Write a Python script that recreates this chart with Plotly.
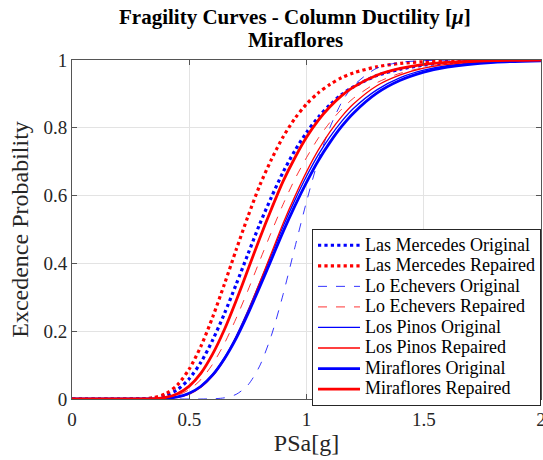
import plotly.graph_objects as go

# PSa [g] sample points
psa = [0, 0.2, 0.3, 0.35, 0.4, 0.45, 0.5, 0.55, 0.6, 0.65, 0.7, 0.75, 0.8, 0.85,
       0.9, 0.95, 1.0, 1.05, 1.1, 1.15, 1.2, 1.3, 1.4, 1.5, 1.6, 1.8, 2.0]

las_mercedes_original = [0, 0, 0.0005, 0.0028, 0.0104, 0.0277, 0.0599, 0.1086, 0.174, 0.252,
                         0.338, 0.427, 0.515, 0.595, 0.669, 0.732, 0.786, 0.831, 0.868, 0.898,
                         0.921, 0.954, 0.973, 0.985, 0.9915, 0.9973, 0.9992]
las_mercedes_repaired = [0, 0, 0.0007, 0.0043, 0.0158, 0.0418, 0.0885, 0.156, 0.242, 0.339,
                         0.440, 0.538, 0.629, 0.706, 0.773, 0.827, 0.870, 0.903, 0.928, 0.948,
                         0.962, 0.980, 0.990, 0.995, 0.9974, 0.9994, 0.9998]
lo_echevers_original = [0, 0, 0, 0, 0, 0, 0, 0, 0.0006, 0.0035,
                        0.0137, 0.041, 0.097, 0.187, 0.308, 0.446, 0.582, 0.704, 0.801, 0.875,
                        0.924, 0.976, 0.993, 0.998, 0.9995, 1.0, 1.0]
lo_echevers_repaired = [0, 0, 0.0001, 0.0007, 0.0034, 0.0110, 0.0277, 0.0576, 0.103, 0.164,
                        0.238, 0.320, 0.407, 0.492, 0.574, 0.648, 0.712, 0.769, 0.816, 0.855,
                        0.887, 0.933, 0.961, 0.977, 0.987, 0.996, 0.9988]
los_pinos_original = [0, 0, 0, 0.0003, 0.0017, 0.0062, 0.0172, 0.0384, 0.073, 0.122,
                      0.185, 0.260, 0.342, 0.425, 0.509, 0.586, 0.657, 0.720, 0.773, 0.819,
                      0.857, 0.912, 0.948, 0.970, 0.983, 0.9945, 0.9983]
los_pinos_repaired = [0, 0, 0, 0.0002, 0.0013, 0.0050, 0.0146, 0.0344, 0.068, 0.117,
                      0.182, 0.258, 0.343, 0.430, 0.518, 0.597, 0.670, 0.734, 0.788, 0.833,
                      0.870, 0.924, 0.956, 0.976, 0.987, 0.996, 0.9989]
miraflores_original = [0, 0, 0, 0.0003, 0.0018, 0.0062, 0.0170, 0.0376, 0.071, 0.119,
                       0.179, 0.251, 0.330, 0.411, 0.493, 0.569, 0.639, 0.703, 0.757, 0.804,
                       0.843, 0.902, 0.940, 0.964, 0.979, 0.993, 0.9977]
miraflores_repaired = [0, 0, 0.0001, 0.0011, 0.0048, 0.0154, 0.0380, 0.0764, 0.133, 0.205,
                       0.290, 0.381, 0.473, 0.560, 0.642, 0.711, 0.772, 0.822, 0.862, 0.895,
                       0.920, 0.955, 0.975, 0.987, 0.993, 0.998, 0.9995]

series = [
    ("Las Mercedes Original", las_mercedes_original, "#0000ff", "dot", 3.2),
    ("Las Mercedes Repaired", las_mercedes_repaired, "#ff0000", "dot", 3.2),
    ("Lo Echevers Original", lo_echevers_original, "#0000ff", "dash", 0.8),
    ("Lo Echevers Repaired", lo_echevers_repaired, "#ff0000", "dash", 0.8),
    ("Los Pinos Original", los_pinos_original, "#0000ff", "solid", 1.3),
    ("Los Pinos Repaired", los_pinos_repaired, "#ff0000", "solid", 1.3),
    ("Miraflores Original", miraflores_original, "#0000ff", "solid", 2.8),
    ("Miraflores Repaired", miraflores_repaired, "#ff0000", "solid", 2.8),
]

title_line1 = "Fragility Curves - Column Ductility [<i>μ</i>]"
title_line2 = "Miraflores"
x_title = "PSa[g]"
y_title = "Excedence Probability"

FONT = "Liberation Serif"

fig = go.Figure()
for name, vals, color, dash, width in series:
    fig.add_trace(go.Scatter(
        x=psa, y=vals, mode="lines",
        name='<span style="font-size:18px">' + name + "</span>",
        line=dict(color=color, dash=dash, width=width, shape="spline", smoothing=0.8),
    ))

axis_common = dict(
    showline=True, linecolor="#555555", linewidth=1, mirror="ticks",
    showgrid=True, gridcolor="#e3e3e3", gridwidth=1,
    ticks="inside", ticklen=5, tickcolor="#555555",
    tickfont=dict(family=FONT, size=19, color="#262626"),
    zeroline=False, automargin=False, ticklabeloverflow="allow",
)

fig.update_layout(
    width=543, height=460,
    margin=dict(l=72, r=2, t=60, b=61, autoexpand=False),
    paper_bgcolor="white", plot_bgcolor="white",
    font=dict(family=FONT, color="#262626"),
    xaxis=dict(range=[0, 2], tickvals=[0, 0.5, 1, 1.5, 2],
               ticktext=["0", "0.5", "1", "1.5", "2"], ticklabelstandoff=3,
               title=dict(text=x_title, font=dict(family=FONT, size=24, color="#262626"), standoff=2),
               **axis_common),
    yaxis=dict(range=[0, 1], tickvals=[0, 0.2, 0.4, 0.6, 0.8, 1],
               ticktext=["0", "0.2", "0.4", "0.6", "0.8", "1"],
               title=dict(text=y_title, font=dict(family=FONT, size=24, color="#262626"), standoff=8),
               **axis_common),
    legend=dict(
        x=1.0, y=0.5015, xanchor="right", yanchor="top",
        bgcolor="white", bordercolor="#262626", borderwidth=1,
        font=dict(family=FONT, size=13.5, color="#000000"),
        tracegroupgap=0, itemwidth=42,
    ),
    showlegend=True,
    annotations=[
        dict(text="<b>" + title_line1 + "</b>", xref="paper", yref="paper",
             x=0.4755, y=1, xanchor="center", yanchor="middle", yshift=43,
             showarrow=False, font=dict(family=FONT, size=21, color="#000000")),
        dict(text="<b>" + title_line2 + "</b>", xref="paper", yref="paper",
             x=0.4755, y=1, xanchor="center", yanchor="middle", yshift=20,
             showarrow=False, font=dict(family=FONT, size=21, color="#000000")),
    ],
)

fig.write_html("out.html")
